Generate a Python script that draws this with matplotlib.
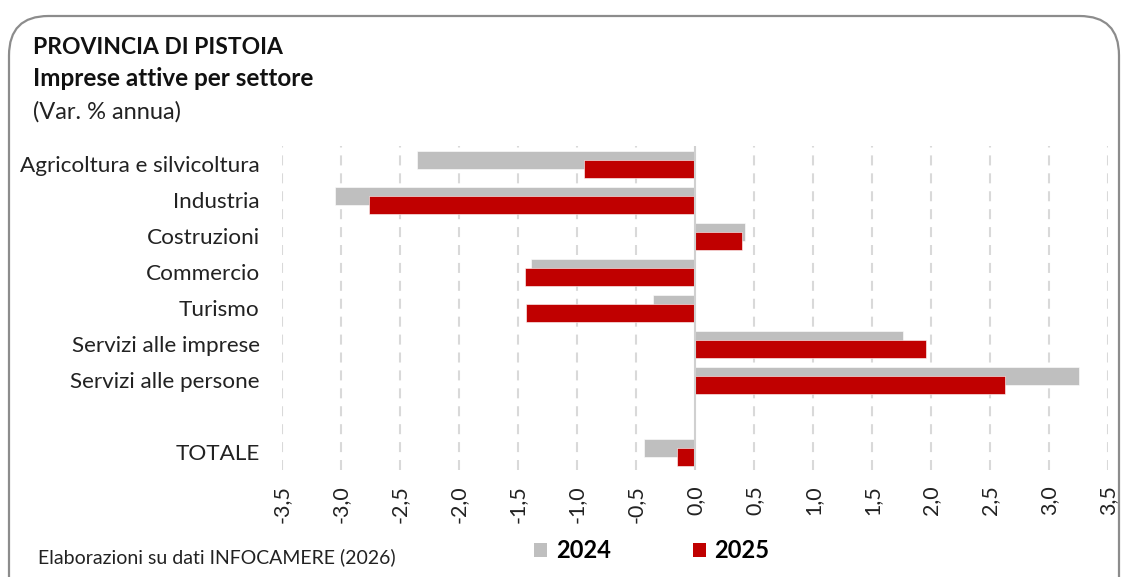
import matplotlib
matplotlib.use("Agg")
import matplotlib.pyplot as plt
from matplotlib.patches import FancyBboxPatch, Patch
import numpy as np

categories = ["Agricoltura e silvicoltura", "Industria", "Costruzioni", "Commercio",
              "Turismo", "Servizi alle imprese", "Servizi alle persone", "", "TOTALE"]
v2024 = [-2.36, -3.05, 0.42, -1.39, -0.36, 1.76, 3.25, np.nan, -0.43]
v2025 = [-0.94, -2.76, 0.40, -1.44, -1.43, 1.96, 2.63, np.nan, -0.15]
xticks = [-3.5, -3.0, -2.5, -2.0, -1.5, -1.0, -0.5, 0.0, 0.5, 1.0, 1.5, 2.0, 2.5, 3.0, 3.5]
xticklabels = [f"{t:.1f}".replace(".", ",") for t in xticks]

plt.rcParams['font.family'] = ['Lato', 'DejaVu Sans']

W, H = 1128, 577
fig = plt.figure(figsize=(W/100, H/100), dpi=100)

# rounded frame
frame = FancyBboxPatch((9/W, -40/H), (1119-9)/W, (H-16+40)/H,
                       boxstyle="round,pad=0,rounding_size=0.035",
                       transform=fig.transFigure, facecolor='none',
                       edgecolor='#8c8c8c', linewidth=1.6, mutation_aspect=W/H,
                       zorder=-5)
fig.patches.append(frame)

ax = fig.add_axes([282/W, (H-470)/H, (1108-282)/W, (470-146)/H])
ax.set_facecolor('none')
y = np.arange(len(categories))
grey = '#bfbfbf'
red = '#c00000'
ax.barh(y - 0.125, v2024, height=0.5, color=grey, edgecolor='white', linewidth=0.4, zorder=2)
ax.barh(y + 0.125, v2025, height=0.5, color=red, edgecolor='white', linewidth=0.4, zorder=3)

ax.set_xlim(-3.5, 3.5)
ax.set_ylim(len(categories) - 0.5, -0.5)
ax.set_xticks(xticks)
ax.set_xticklabels(xticklabels, rotation=90, fontsize=15.5, color='#222222')
ax.set_yticks(y)
ax.set_yticklabels(categories, fontsize=16.2, color='#222222')
ax.tick_params(axis='y', length=0, pad=16)
ax.tick_params(axis='x', length=0, pad=11)
for s in ax.spines.values():
    s.set_visible(False)
for t in xticks:
    if t == 0:
        continue
    ax.axvline(t, color='#d9d9d9', linewidth=1.5, dashes=(4.8, 3.8), zorder=1)
ax.axvline(0, color='#d0d0d0', linewidth=1.5, zorder=4)

fig.text(33/W, 1 - 47/H, "PROVINCIA DI PISTOIA", fontsize=16.5, fontweight='bold',
         va='center', ha='left', color='#111111')
fig.text(33/W, 1 - 79/H, "Imprese attive per settore", fontsize=17.5, fontweight='bold',
         va='center', ha='left', color='#111111')
fig.text(33/W, 1 - 112/H, "(Var. % annua)", fontsize=17,
         va='center', ha='left', color='#222222')
fig.text(38/W, 1 - 557/H, "Elaborazioni su dati INFOCAMERE (2026)", fontsize=14,
         va='center', ha='left', color='#222222')

handles = [Patch(facecolor=grey, label='2024'), Patch(facecolor=red, label='2025')]
leg = fig.legend(handles=handles, loc='center', bbox_to_anchor=(652/W, 1 - 551/H),
                 ncol=2, frameon=False, handlelength=0.55, handleheight=0.55,
                 handletextpad=0.35, columnspacing=3.5,
                 prop={'weight': 'bold', 'size': 17})

fig.savefig("out.png", dpi=100)
